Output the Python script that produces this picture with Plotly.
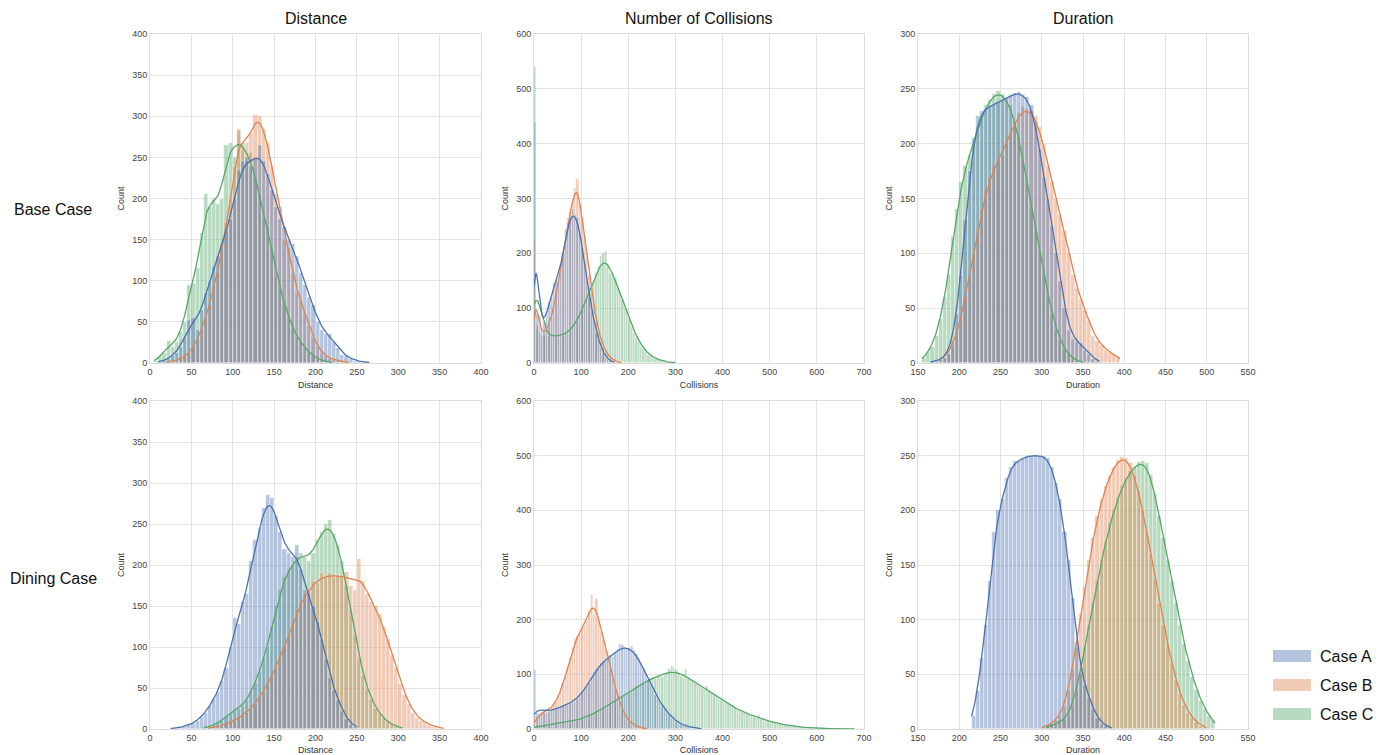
import numpy as np
import plotly.graph_objects as go

BIN = 5
case_names = ["Case A", "Case B", "Case C"]
case_colors = ["#4C72B0", "#DD8452", "#55A868"]
col_titles = ["Distance", "Number of Collisions", "Duration"]
x_titles = ["Distance", "Collisions", "Duration"]
row_titles = ["Base Case", "Dining Case"]

# ---------- Base Case : Distance (bin start, counts) ----------
base_dist_a_start = 10
base_dist_a = [1, 3, 5, 8, 12, 20, 30, 52, 55, 40, 65, 85, 100, 118, 130, 145, 160, 175, 200, 235,
               245, 250, 240, 248, 265, 245, 230, 210, 190, 175, 165, 150, 145, 130, 110, 95, 80, 70,
               50, 40, 35, 35, 25, 18, 10, 8, 5, 3, 2, 1, 1]
base_dist_b_start = 20
base_dist_b = [1, 2, 3, 5, 8, 12, 18, 28, 40, 55, 70, 95, 110, 140, 170, 200, 240, 285, 262, 268,
               280, 302, 300, 285, 268, 240, 205, 190, 150, 140, 110, 85, 75, 60, 45, 30, 20, 12, 8,
               5, 4, 3, 2, 1]
base_dist_c_start = 5
base_dist_c = [3, 8, 12, 27, 20, 25, 38, 50, 95, 96, 115, 158, 205, 190, 200, 193, 200, 265, 268, 250,
               282, 268, 245, 255, 225, 205, 175, 165, 140, 105, 90, 70, 55, 42, 30, 25, 18, 12, 8,
               5, 3, 2, 1]

# ---------- Base Case : Collisions ----------
base_coll_a_start = 0
base_coll_a = [440, 90, 85, 60, 75, 95, 110, 120, 145, 150, 155, 180, 200, 245, 255, 265, 280, 270,
               265, 240, 210, 185, 150, 120, 95, 75, 55, 40, 28, 18, 10, 6, 3, 2]
base_coll_b_start = 0
base_coll_b = [225, 70, 55, 50, 55, 60, 70, 85, 100, 130, 150, 175, 200, 230, 265, 275, 300, 320,
               335, 290, 265, 230, 195, 160, 130, 100, 75, 55, 40, 28, 20, 14, 9, 6, 3, 2, 1]
base_coll_c_start = 0
base_coll_c = [540, 60, 55, 50, 50, 48, 50, 45, 50, 48, 55, 45, 50, 55, 50, 60, 65, 70, 75, 85,
               95, 110, 120, 130, 140, 150, 165, 175, 195, 200, 205, 180, 165, 165, 155, 140, 130,
               115, 100, 95, 80, 65, 55, 45, 40, 30, 25, 20, 15, 12, 10, 8, 6, 5, 3, 2, 2, 1, 1, 1]

# ---------- Base Case : Duration ----------
base_dur_a_start = 165
base_dur_a = [1, 2, 3, 5, 8, 20, 45, 80, 130, 175, 205, 225, 230, 232, 235, 235, 238, 240, 242, 244,
              246, 247, 244, 243, 235, 220, 195, 170, 150, 125, 100, 75, 50, 30, 22, 20, 18, 12, 8,
              4, 2]
base_dur_b_start = 175
base_dur_b = [3, 5, 8, 15, 25, 40, 60, 80, 100, 120, 140, 158, 170, 180, 185, 190, 200, 210, 220,
              228, 233, 232, 230, 225, 215, 200, 180, 165, 150, 135, 120, 100, 80, 68, 58, 48, 38,
              25, 20, 16, 12, 10, 8, 6]
base_dur_c_start = 155
base_dur_c = [5, 10, 15, 25, 40, 60, 80, 115, 140, 165, 180, 190, 200, 215, 225, 235, 240, 245, 248,
              245, 240, 235, 220, 205, 185, 165, 140, 120, 100, 80, 60, 45, 30, 20, 12, 7, 4, 2, 1]

# ---------- Dining Case : Distance ----------
din_dist_a_start = 25
din_dist_a = [1, 1, 2, 3, 5, 7, 10, 15, 20, 28, 37, 45, 58, 75, 100, 135, 128, 155, 165, 205, 230,
              245, 270, 285, 282, 260, 240, 220, 215, 210, 225, 195, 170, 165, 150, 130, 110, 85,
              62, 48, 35, 22, 12, 6, 3]
din_dist_b_start = 70
din_dist_b = [1, 2, 3, 4, 6, 8, 10, 13, 17, 20, 25, 30, 38, 45, 55, 65, 75, 85, 100, 115, 130, 145,
              155, 165, 170, 180, 178, 190, 185, 190, 185, 188, 185, 192, 175, 170, 207, 180, 165,
              155, 150, 140, 125, 110, 90, 75, 55, 42, 30, 20, 13, 10, 8, 5, 3, 2, 1]
din_dist_c_start = 65
din_dist_c = [2, 3, 5, 7, 10, 15, 20, 25, 25, 28, 35, 45, 55, 70, 85, 100, 125, 150, 170, 185, 195,
              200, 210, 215, 210, 205, 215, 230, 240, 250, 255, 238, 225, 205, 175, 145, 115, 85, 65,
              48, 35, 25, 18, 12, 8, 5, 3, 2]

# ---------- Dining Case : Collisions ----------
din_coll_a_start = 0
din_coll_a = [108, 30, 28, 32, 30, 30, 32, 35, 35, 37, 40, 38, 42, 45, 45, 48, 50, 52, 55, 60, 65,
              70, 78, 85, 95, 105, 110, 115, 120, 125, 128, 130, 135, 132, 140, 145, 155, 153, 150,
              145, 148, 152, 145, 138, 130, 120, 110, 100, 90, 80, 72, 62, 55, 48, 42, 36, 30, 25,
              20, 16, 13, 10, 8, 6, 5, 4, 3, 2, 2, 1, 1]
din_coll_b_start = 0
din_coll_b = [25, 20, 25, 30, 35, 32, 35, 38, 45, 50, 60, 70, 85, 100, 115, 130, 150, 165, 170, 175,
              185, 190, 200, 215, 245, 210, 237, 200, 180, 165, 145, 130, 110, 90, 75, 60, 45, 35,
              25, 18, 13, 10, 7, 5, 3, 2, 1, 1]
din_coll_c_start = 0
din_coll_c = [5, 5, 6, 6, 7, 7, 8, 8, 9, 9, 10, 10, 11, 12, 12, 13, 14, 15, 16, 17, 18, 20, 22, 24,
              26, 28, 30, 33, 36, 38, 40, 43, 46, 50, 52, 55, 58, 60, 63, 66, 68, 72, 75, 78, 80, 84,
              86, 88, 90, 93, 95, 92, 98, 97, 95, 100, 105, 110, 115, 112, 108, 100, 97, 95, 110, 92,
              90, 88, 85, 82, 78, 75, 72, 78, 70, 65, 62, 58, 55, 53, 50, 48, 45, 42, 40, 38, 35, 33,
              31, 30, 28, 26, 24, 22, 20, 25, 18, 16, 15, 14, 13, 12, 11, 10, 9, 8, 7, 7, 6, 5, 5, 4,
              5, 3, 3, 2, 2, 2, 1, 1, 1, 1, 1, 1, 1, 1, 0, 1, 0, 0, 1, 0, 0, 0, 0, 1]

# ---------- Dining Case : Duration ----------
din_dur_a_start = 215
din_dur_a = [12, 35, 65, 95, 135, 180, 200, 210, 230, 240, 245, 245, 248, 250, 250, 250, 250, 250,
             248, 240, 225, 210, 180, 155, 120, 75, 50, 40, 28, 18, 10, 5, 3, 1]
din_dur_b_start = 300
din_dur_b = [2, 3, 5, 8, 12, 20, 35, 55, 80, 105, 130, 155, 175, 195, 210, 222, 232, 240, 246, 249,
             248, 243, 232, 218, 200, 180, 160, 138, 115, 95, 78, 60, 45, 32, 22, 15, 10, 6, 3, 2]
din_dur_c_start = 305
din_dur_c = [2, 4, 5, 6, 8, 12, 20, 35, 55, 75, 95, 115, 135, 155, 172, 188, 200, 212, 222, 230, 236,
             240, 244, 245, 243, 232, 215, 195, 175, 155, 135, 115, 95, 78, 62, 48, 36, 26, 18, 12, 8]

# panel order: row-major; each panel = list of (start, counts) for A, B, C
panels = [
    [(base_dist_a_start, base_dist_a), (base_dist_b_start, base_dist_b), (base_dist_c_start, base_dist_c)],
    [(base_coll_a_start, base_coll_a), (base_coll_b_start, base_coll_b), (base_coll_c_start, base_coll_c)],
    [(base_dur_a_start, base_dur_a), (base_dur_b_start, base_dur_b), (base_dur_c_start, base_dur_c)],
    [(din_dist_a_start, din_dist_a), (din_dist_b_start, din_dist_b), (din_dist_c_start, din_dist_c)],
    [(din_coll_a_start, din_coll_a), (din_coll_b_start, din_coll_b), (din_coll_c_start, din_coll_c)],
    [(din_dur_a_start, din_dur_a), (din_dur_b_start, din_dur_b), (din_dur_c_start, din_dur_c)],
]
x_ranges = [[0, 400], [0, 700], [150, 550]]
x_dticks = [50, 100, 50]
y_ranges = [[0, 400], [0, 600], [0, 300]]
y_dticks = [50, 100, 50]

W, H = 1386, 755
FONT = "Liberation Sans, Arial, Helvetica, sans-serif"
x_dom_px = [(150, 481), (534, 864), (918, 1248)]
y_dom_px = [(34, 363), (401, 729)]


def rgba(hex_color, a):
    h = hex_color.lstrip("#")
    r, g, b = int(h[0:2], 16), int(h[2:4], 16), int(h[4:6], 16)
    return f"rgba({r},{g},{b},{a})"


def kde_curve(start, counts, h):
    c = np.asarray(counts, dtype=float)
    centers = start + h / 2 + h * np.arange(len(c))
    n = c.sum()
    mean = (c * centers).sum() / n
    std = np.sqrt((c * (centers - mean) ** 2).sum() / n)
    bw = std * n ** (-0.2)
    nz = np.nonzero(c)[0]
    xs = np.linspace(start + h * nz[0], start + h * (nz[-1] + 1), 400)
    dens = (c[None, :] * np.exp(-0.5 * ((xs[:, None] - centers[None, :]) / bw) ** 2)).sum(axis=1)
    dens /= n * bw * np.sqrt(2 * np.pi)
    return xs, dens * n * h


fig = go.Figure()
layout_axes = {}
for p, series in enumerate(panels):
    r, col = divmod(p, 3)
    idx = p + 1
    xa = "x" if idx == 1 else f"x{idx}"
    ya = "y" if idx == 1 else f"y{idx}"
    # seaborn draws hue levels in reverse order (Case A on top)
    for k in [2, 1, 0]:
        start, counts = series[k]
        centers = [start + BIN / 2 + BIN * i for i in range(len(counts))]
        fig.add_trace(go.Bar(
            x=centers, y=counts, width=BIN, xaxis=xa, yaxis=ya,
            marker=dict(color=rgba(case_colors[k], 0.42), line=dict(color="rgba(255,255,255,0.8)", width=0.5)),
            name=case_names[k], showlegend=False, hoverinfo="skip"))
    for k in [2, 1, 0]:
        start, counts = series[k]
        xs, ys = kde_curve(start, counts, BIN)
        fig.add_trace(go.Scatter(
            x=xs, y=ys, mode="lines", xaxis=xa, yaxis=ya,
            line=dict(color=case_colors[k], width=1.3),
            name=case_names[k], showlegend=False, hoverinfo="skip"))

    x0, x1 = x_dom_px[col]
    y0, y1 = y_dom_px[r]
    key = "" if idx == 1 else str(idx)
    layout_axes[f"xaxis{key}"] = dict(
        domain=[x0 / W, x1 / W], anchor=ya, range=x_ranges[col], dtick=x_dticks[col],
        showgrid=True, gridcolor="#e3e3e3", gridwidth=1, zeroline=False,
        showline=True, mirror=True, linecolor="#dcdcdc", linewidth=1, ticks="",
        tickfont=dict(size=9, color="#444", family=FONT),
        title=dict(text=x_titles[col], font=dict(size=9, color="#333", family=FONT), standoff=5),
        automargin=False)
    layout_axes[f"yaxis{key}"] = dict(
        domain=[1 - y1 / H, 1 - y0 / H], anchor=xa, range=y_ranges[col], dtick=y_dticks[col],
        showgrid=True, gridcolor="#e3e3e3", gridwidth=1, zeroline=False,
        showline=True, mirror=True, linecolor="#dcdcdc", linewidth=1, ticks="",
        tickfont=dict(size=9, color="#444", family=FONT),
        title=dict(text="Count", font=dict(size=9, color="#333", family=FONT), standoff=6),
        automargin=False)

annotations = []
for col in range(3):
    x0, x1 = x_dom_px[col]
    annotations.append(dict(text=col_titles[col], x=(x0 + x1) / 2 / W, y=1 - 18 / H,
                            xref="paper", yref="paper", xanchor="center", yanchor="middle",
                            showarrow=False, font=dict(size=16, color="#111", family=FONT)))
row_y_px = [210, 578]
for r in range(2):
    annotations.append(dict(text=row_titles[r], x=53 / W, y=1 - row_y_px[r] / H,
                            xref="paper", yref="paper", xanchor="center", yanchor="middle",
                            showarrow=False, font=dict(size=16, color="#111", family=FONT)))

# legend (patch + label)
shapes = []
leg_y_px = [656, 685, 714]
for k in range(3):
    yc = leg_y_px[k]
    shapes.append(dict(type="rect", xref="paper", yref="paper",
                       x0=1273 / W, x1=1311 / W, y0=1 - (yc + 6) / H, y1=1 - (yc - 6) / H,
                       fillcolor=rgba(case_colors[k], 0.42), line=dict(width=0)))
    annotations.append(dict(text=case_names[k], x=1318 / W, y=1 - yc / H, xref="paper", yref="paper",
                            xanchor="left", yanchor="middle", showarrow=False,
                            font=dict(size=16, color="#111", family=FONT)))

fig.update_layout(
    width=W, height=H, margin=dict(l=0, r=0, t=0, b=0),
    paper_bgcolor="white", plot_bgcolor="white",
    barmode="overlay", bargap=0, showlegend=False,
    annotations=annotations, shapes=shapes,
    font=dict(family=FONT),
    **layout_axes)

fig.write_html("out.html", config={"displayModeBar": False},
               post_script="document.body.style.margin='0';document.body.style.padding='0';document.body.style.overflow='hidden';")
